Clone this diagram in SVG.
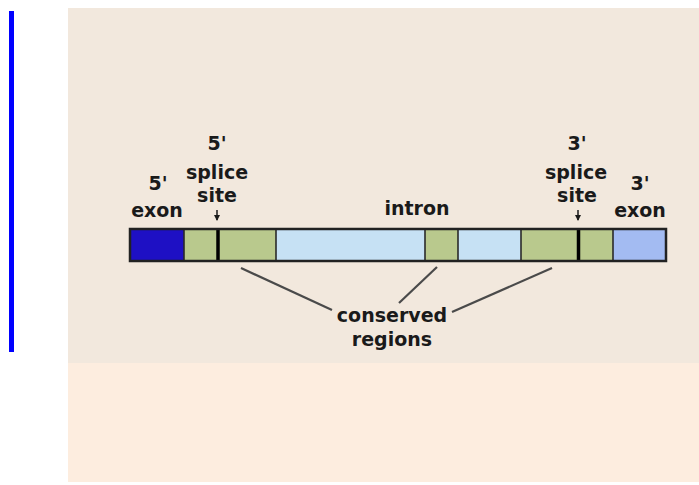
<svg xmlns="http://www.w3.org/2000/svg" width="699" height="485" viewBox="0 0 699 485">
<style>
.t{font-family:"DejaVu Sans","Liberation Sans",sans-serif;font-weight:bold;font-size:19px;fill:#1a1a1a;text-anchor:middle}
.seg{stroke:none}
.ln{stroke:#4a4a4a;stroke-width:2.2;fill:none}
.ar{stroke:#1a1a1a;stroke-width:1.5}
</style>
<defs>
<marker id="ah" markerWidth="6" markerHeight="6" refX="5" refY="3" orient="auto" markerUnits="userSpaceOnUse">
<path d="M0,0 L6,3 L0,6 Z" fill="#1a1a1a"/>
</marker>
</defs>
<rect x="0" y="0" width="699" height="485" fill="#ffffff"/>
<rect x="68" y="8" width="631" height="355" fill="#F2E8DD"/>
<rect x="68" y="363" width="631" height="119" fill="#FDEDDF"/>
<rect x="9" y="11" width="5" height="341" fill="#0000FF"/>
<g id="gene">
<rect class="seg" x="130" y="229" width="54" height="32" fill="#1E10C4"/>
<rect class="seg" x="184" y="229" width="33" height="32" fill="#B9C98D"/>
<rect class="seg" x="217" y="229" width="59" height="32" fill="#B9C98D"/>
<rect class="seg" x="276" y="229" width="149" height="32" fill="#C6E1F4"/>
<rect class="seg" x="425" y="229" width="33" height="32" fill="#B9C98D"/>
<rect class="seg" x="458" y="229" width="63" height="32" fill="#C6E1F4"/>
<rect class="seg" x="521" y="229" width="57" height="32" fill="#B9C98D"/>
<rect class="seg" x="578" y="229" width="35" height="32" fill="#B9C98D"/>
<rect class="seg" x="613" y="229" width="53" height="32" fill="#A3BBF2"/>
<g stroke="#2a2a2a" stroke-width="1.6">
<line x1="184" y1="229" x2="184" y2="261"/>
<line x1="276" y1="229" x2="276" y2="261"/>
<line x1="425" y1="229" x2="425" y2="261"/>
<line x1="458" y1="229" x2="458" y2="261"/>
<line x1="521" y1="229" x2="521" y2="261"/>
<line x1="613" y1="229" x2="613" y2="261"/>
</g>
<line x1="218" y1="229" x2="218" y2="261" stroke="#000" stroke-width="3.5"/>
<line x1="578.5" y1="229" x2="578.5" y2="261" stroke="#000" stroke-width="3.5"/>
<rect x="130" y="229" width="536" height="32" fill="none" stroke="#222" stroke-width="2.5"/>
</g>
<g id="label-5exon">
<text class="t" x="158" y="190">5'</text>
<text class="t" x="157" y="217">exon</text>
</g>
<g id="label-5splice">
<text class="t" x="217" y="150">5'</text>
<text class="t" x="217" y="179">splice</text>
<text class="t" x="217" y="202">site</text>
</g>
<g id="label-intron">
<text class="t" x="417" y="215">intron</text>
</g>
<g id="label-3splice">
<text class="t" x="577" y="150">3'</text>
<text class="t" x="576" y="179">splice</text>
<text class="t" x="577" y="202">site</text>
</g>
<g id="label-3exon">
<text class="t" x="640" y="190">3'</text>
<text class="t" x="640" y="217">exon</text>
</g>
<g id="label-conserved">
<text class="t" x="392" y="322">conserved</text>
<text class="t" x="392" y="346">regions</text>
</g>
<g id="connectors">
<line class="ar" x1="217" y1="210" x2="217" y2="220" marker-end="url(#ah)"/>
<line class="ar" x1="578" y1="210" x2="578" y2="220" marker-end="url(#ah)"/>
<line class="ln" x1="241" y1="268" x2="332" y2="310"/>
<line class="ln" x1="437" y1="267" x2="399" y2="303"/>
<line class="ln" x1="552" y1="268" x2="452" y2="312"/>
</g>
</svg>
